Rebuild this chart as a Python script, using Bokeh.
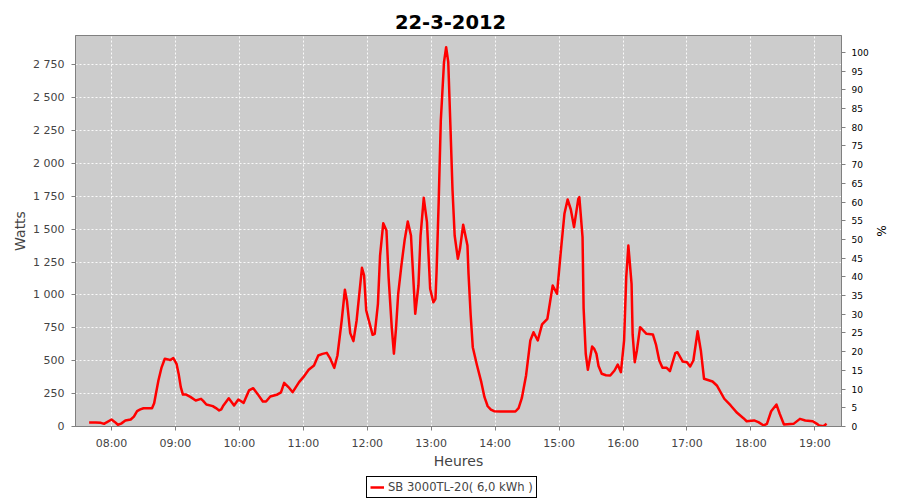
from bokeh.plotting import figure
from bokeh.layouts import column
from bokeh.models import (Range1d, LinearAxis, FixedTicker, Legend, LegendItem,
                          ColumnDataSource, Label)
from bokeh.embed import file_html
from bokeh.resources import INLINE

# ---- data -------------------------------------------------------------
times = ["07:39", "07:45", "07:50", "07:53", "07:55", "08:00", "08:03", "08:06", "08:09", "08:13",
         "08:18", "08:21", "08:24", "08:27", "08:30", "08:38", "08:40", "08:44", "08:47", "08:50",
         "08:53", "08:55", "08:58", "09:01", "09:03", "09:05", "09:07", "09:10", "09:14", "09:19",
         "09:24", "09:26", "09:29", "09:35", "09:38", "09:41", "09:43", "09:45", "09:50", "09:55",
         "09:59", "10:04", "10:09", "10:13", "10:17", "10:22", "10:25", "10:29", "10:35", "10:39",
         "10:42", "10:46", "10:50", "10:56", "11:00", "11:05", "11:10", "11:14", "11:18", "11:22",
         "11:25", "11:29", "11:32", "11:36", "11:39", "11:41", "11:44", "11:47", "11:50", "11:55",
         "11:57", "11:59", "12:05", "12:07", "12:10", "12:12", "12:15", "12:18", "12:20", "12:23",
         "12:25", "12:27", "12:29", "12:32", "12:35", "12:38", "12:41", "12:45", "12:48", "12:50",
         "12:53", "12:56", "12:59", "13:02", "13:04", "13:05", "13:07", "13:09", "13:12", "13:14",
         "13:16", "13:18", "13:20", "13:22", "13:25", "13:27", "13:30", "13:34", "13:35", "13:37",
         "13:39", "13:43", "13:47", "13:50", "13:53", "13:56", "13:59", "14:05", "14:10", "14:15",
         "14:19", "14:22", "14:25", "14:29", "14:33", "14:36", "14:40", "14:44", "14:49", "14:54",
         "14:58", "15:02", "15:05", "15:08", "15:11", "15:14", "15:18", "15:19", "15:22", "15:23",
         "15:25", "15:27", "15:31", "15:33", "15:35", "15:37", "15:40", "15:44", "15:48", "15:52",
         "15:55", "15:58", "16:01", "16:03", "16:05", "16:08", "16:09", "16:11", "16:13", "16:16",
         "16:22", "16:28", "16:31", "16:34", "16:37", "16:41", "16:44", "16:49", "16:51", "16:56",
         "17:00", "17:03", "17:06", "17:10", "17:13", "17:16", "17:24", "17:28", "17:35", "17:41",
         "17:47", "17:53", "17:56", "18:03", "18:07", "18:12", "18:15", "18:19", "18:24", "18:27",
         "18:31", "18:40", "18:46", "18:51", "18:58", "19:02", "19:04", "19:08", "19:11"]

watts = [30, 30, 28, 20, 30, 53, 35, 13, 22, 45,
         53, 75, 117, 130, 139, 139, 177, 350, 450, 515,
         510, 505, 520, 477, 400, 299, 243, 243, 225, 198,
         210, 195, 167, 155, 140, 122, 130, 160, 215, 160,
         205, 180, 274, 291, 248, 190, 190, 228, 241, 260,
         332, 300, 261, 337, 375, 431, 464, 540, 552, 560,
         520, 446, 540, 806, 1040, 950, 710, 649, 806, 1207,
         1150, 882, 697, 705, 933, 1300, 1546, 1490, 1135, 750,
         553, 750, 1009, 1224, 1414, 1559, 1452, 857, 1072, 1452,
         1739, 1554, 1047, 945, 971, 1173, 1706, 2327, 2770, 2884,
         2770, 2289, 1795, 1452, 1275, 1351, 1534, 1376, 1161, 850,
         603, 464, 337, 223, 154, 128, 116, 114, 114, 114,
         114, 140, 215, 388, 654, 717, 654, 776, 819, 1072,
         1009, 1364, 1617, 1726, 1650, 1516, 1731, 1744, 1440, 900,
         553, 431, 608, 590, 553, 460, 401, 390, 388, 426,
         471, 413, 654, 1135, 1376, 1085, 700, 489, 578, 755,
         705, 700, 620, 502, 446, 446, 421, 557, 565, 494,
         489, 456, 502, 725, 578, 363, 342, 312, 211, 160,
         104, 63, 40, 46, 33, 8, 20, 116, 167, 97,
         15, 20, 58, 46, 40, 20, 8, 2, 20]

hour_labels = ["08:00", "09:00", "10:00", "11:00", "12:00", "13:00",
               "14:00", "15:00", "16:00", "17:00", "18:00", "19:00"]
watt_ticks = [0, 250, 500, 750, 1000, 1250, 1500, 1750, 2000, 2250, 2500, 2750]
pct_ticks = list(range(0, 101, 5))

title_text = "22-3-2012"
series_label = "SB 3000TL-20( 6,0 kWh )"
x_label = "Heures"
y_label = "Watts"
y2_label = "%"


def to_min(s):
    h, m = s.split(":")
    return int(h) * 60 + int(m)


def watt_fmt(v):
    return f"{v:,}".replace(",", " ")


src = ColumnDataSource(dict(t=[to_min(s) for s in times], w=watts))
hour_ticks = [to_min(s) for s in hour_labels]

FONT = "DejaVu Sans"
LINE_COLOR = "#FF0000"
W = 900
FRAME_L, FRAME_R = 75, 841   # column() aligns every child's frame with the chart's frame

# ---- title strip (x range in page pixels over the aligned frame) -------
ts = figure(width=W, height=30, output_backend="svg", toolbar_location=None,
            x_range=Range1d(FRAME_L, FRAME_R), y_range=Range1d(0, 30),
            x_axis_location=None, y_axis_location=None,
            min_border_left=0, min_border_right=0, min_border_top=0, min_border_bottom=0,
            background_fill_color="white", border_fill_color="white", outline_line_color=None)
ts.grid.visible = False
ts.add_layout(Label(x=W / 2, y=8.3, text=title_text, text_align="center",
                    text_baseline="alphabetic", text_font=FONT, text_font_size="19.5px",
                    text_font_style="bold", text_color="black"))

# ---- main chart ----------------------------------------------------------
p = figure(width=W, height=446, output_backend="svg", toolbar_location=None,
           x_range=Range1d(446.2, 1165.0), y_range=Range1d(0, 2973),
           min_border_left=FRAME_L, min_border_right=W - FRAME_R,
           min_border_top=5, min_border_bottom=50,
           background_fill_color="#CCCCCC", border_fill_color="white",
           outline_line_color="#808080", outline_line_width=1)

r = p.line("t", "w", source=src, line_color=LINE_COLOR, line_width=2.5, line_join="round")

# x axis
xa = p.xaxis[0]
xa.ticker = FixedTicker(ticks=hour_ticks)
xa.major_label_overrides = {t: l for t, l in zip(hour_ticks, hour_labels)}
xa.axis_label = x_label

# left axis
ya = p.yaxis[0]
ya.ticker = FixedTicker(ticks=watt_ticks)
ya.major_label_overrides = {t: watt_fmt(t) for t in watt_ticks}
ya.axis_label = y_label

for ax in (xa, ya):
    ax.axis_line_color = "#808080"
    ax.major_tick_line_color = "#808080"
    ax.major_tick_out = 4
    ax.major_tick_in = 0
    ax.minor_tick_line_color = None
    ax.major_label_text_font = FONT
    ax.major_label_text_font_size = "11px"
    ax.major_label_text_color = "#444444"
    ax.axis_label_text_font = FONT
    ax.axis_label_text_font_size = "14px"
    ax.axis_label_text_font_style = "normal"
    ax.axis_label_text_color = "#444444"
xa.major_label_standoff = 6
xa.axis_label_standoff = 0
ya.major_label_standoff = 7
ya.axis_label_standoff = 2

# right axis (%)
p.extra_y_ranges = {"pct": Range1d(0, 104.5)}
ra = LinearAxis(y_range_name="pct", ticker=FixedTicker(ticks=pct_ticks), axis_label=y2_label)
ra.axis_line_color = "#808080"
ra.major_tick_line_color = "#808080"
ra.major_tick_out = 4
ra.major_tick_in = 0
ra.minor_tick_line_color = None
ra.major_label_text_font = FONT
ra.major_label_text_font_size = "9px"
ra.major_label_text_color = "black"
ra.major_label_standoff = 6
ra.axis_label_text_font = FONT
ra.axis_label_text_font_size = "12px"
ra.axis_label_text_font_style = "normal"
ra.axis_label_text_color = "black"
ra.axis_label_standoff = 2
p.add_layout(ra, "right")

# grid
p.grid.grid_line_color = "white"
p.grid.grid_line_dash = "2 2"
p.grid.grid_line_alpha = 0.9
p.grid.grid_line_width = 1

# ---- legend strip --------------------------------------------------------
# same series, but its ranges keep the data out of view: only the legend shows
lg = figure(width=W, height=24, output_backend="svg", toolbar_location=None,
            x_range=Range1d(FRAME_L, FRAME_R), y_range=Range1d(-1000, -976),
            x_axis_location=None, y_axis_location=None,
            min_border_left=0, min_border_right=0, min_border_top=0, min_border_bottom=0,
            background_fill_color="white", border_fill_color="white", outline_line_color=None)
lg.grid.visible = False
lr = lg.line("t", "w", source=src, line_color=LINE_COLOR, line_width=2.5)
legend = Legend(items=[LegendItem(label=series_label, renderers=[lr])],
                orientation="horizontal", location=(366 - FRAME_L, 2),
                border_line_color="black", border_line_width=1, border_line_alpha=1,
                background_fill_color="white", background_fill_alpha=1,
                label_text_font=FONT, label_text_font_size="11.6px", label_text_color="#444444",
                glyph_width=14, glyph_height=14, label_height=14,
                padding=3, margin=0, spacing=0, label_standoff=4)
lg.add_layout(legend)

layout = column(ts, p, lg, spacing=0)
open("out.html", "w").write(file_html(layout, INLINE))
